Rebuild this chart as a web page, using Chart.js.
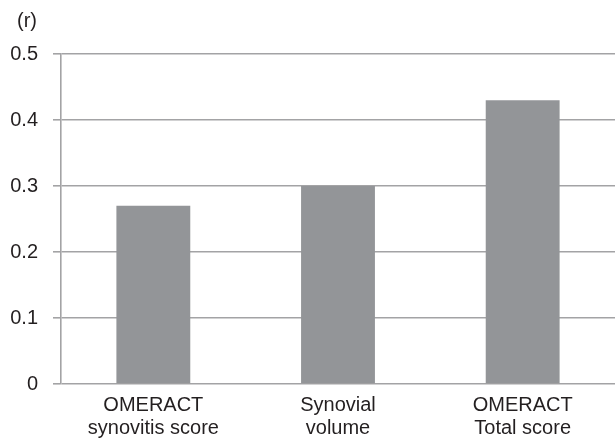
<!DOCTYPE html>
<html>
<head>
<meta charset="utf-8">
<script src="https://cdn.jsdelivr.net/npm/chart.js@4.4.1/dist/chart.umd.min.js"></script>
<style>
  html, body { margin: 0; padding: 0; background: #fff; }
  #wrap { position: relative; width: 615px; height: 439px; }
  #unit { position: absolute; left: 17px; top: 9px; font: 20px "Liberation Sans", Arial, sans-serif; color: #231f20; }
  canvas { display: block; }
</style>
</head>
<body>
<div id="wrap">
  <canvas id="c" width="615" height="439"></canvas>
  <div id="unit">(r)</div>
</div>
<script>
const categories = [["OMERACT", "synovitis score"], ["Synovial", "volume"], ["OMERACT", "Total score"]];
const values = [0.27, 0.30, 0.43];
const yTicks = [0, 0.1, 0.2, 0.3, 0.4, 0.5];

const gridColor = '#a3a3a5';
const textColor = '#231f20';
const font = { family: '"Liberation Sans", Arial, sans-serif', size: 20, lineHeight: 1.15 };

new Chart(document.getElementById('c'), {
  type: 'bar',
  data: {
    labels: categories,
    datasets: [{
      data: values,
      backgroundColor: '#939598',
      borderWidth: 0,
      categoryPercentage: 0.8,
      barPercentage: 0.5
    }]
  },
  options: {
    responsive: false,
    animation: false,
    devicePixelRatio: 1,
    layout: { padding: { top: 54, right: 0, left: 0, bottom: 0 } },
    plugins: { legend: { display: false }, tooltip: { enabled: false } },
    scales: {
      x: {
        grid: { display: false },
        border: { display: false },
        ticks: { color: textColor, font: font, padding: 2, maxRotation: 0, autoSkip: false },
        afterFit: (s) => { s.height = 55; }
      },
      y: {
        min: 0,
        max: 0.5,
        afterBuildTicks: (s) => { s.ticks = yTicks.map(v => ({ value: v })); },
        grid: { color: gridColor, lineWidth: 1.6, tickLength: 8, drawTicks: true },
        border: { display: true, color: gridColor, width: 1.6 },
        ticks: {
          color: textColor, font: { family: font.family, size: 20 }, padding: 15,
          callback: (v) => (v === 0 ? '0' : v.toFixed(1))
        },
        afterFit: (s) => { s.width = 61; }
      }
    }
  }
});
</script>
</body>
</html>
